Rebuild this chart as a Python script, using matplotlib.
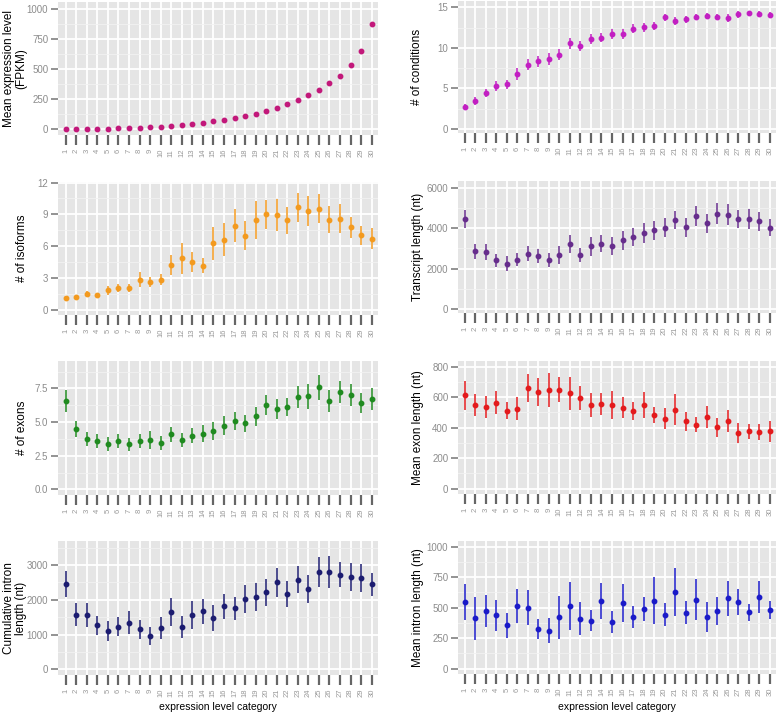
import numpy as np
import matplotlib.pyplot as plt
from matplotlib.ticker import MultipleLocator

plt.rcParams['font.family'] = ['Liberation Sans', 'DejaVu Sans']

cats = list(range(1, 31))

# mean expression level (FPKM)
fpkm = [1, 2, 3, 4, 6, 8, 11, 14, 18, 22, 27, 35, 46, 54, 68, 82, 92, 109, 130, 152,
        177, 209, 245, 285, 329, 383, 446, 530, 650, 875]
fpkm_err = [0.2] * 30

# number of conditions
cond = [2.74, 3.43, 4.41, 5.31, 5.48, 6.78, 7.93, 8.34, 8.62, 9.15, 10.58, 10.22, 11.07,
        11.28, 11.73, 11.73, 12.38, 12.55, 12.75, 13.77, 13.32, 13.53, 13.85, 13.94,
        13.81, 13.69, 14.14, 14.26, 14.18, 14.10]
cond_err = [0.35, 0.45, 0.5, 0.6, 0.6, 0.7, 0.7, 0.7, 0.7, 0.7, 0.7, 0.65, 0.65, 0.6,
            0.6, 0.6, 0.55, 0.55, 0.5, 0.45, 0.45, 0.45, 0.4, 0.4, 0.4, 0.45, 0.4, 0.35,
            0.35, 0.4]

# number of isoforms
iso = [1.12, 1.2, 1.5, 1.4, 1.84, 2.06, 2.06, 2.87, 2.62, 2.87, 4.27, 4.86, 4.52, 4.18,
       6.27, 6.61, 7.95, 7.01, 8.45, 9.01, 8.95, 8.45, 9.66, 9.29, 9.54, 8.51, 8.6,
       7.79, 7.04, 6.73]
iso_err = [0.1, 0.1, 0.3, 0.15, 0.45, 0.35, 0.35, 0.7, 0.45, 0.5, 0.95, 1.45, 0.95, 0.7,
           1.55, 1.55, 1.55, 1.35, 1.8, 1.35, 1.5, 1.25, 1.37, 1.4, 1.37, 1.25, 1.35,
           1.0, 0.9, 0.97]

# transcript length (nt)
tlen = [4459, 2852, 2803, 2410, 2246, 2443, 2738, 2623, 2410, 2672, 3213, 2672, 3098,
        3230, 3115, 3393, 3557, 3738, 3885, 4016, 4393, 4033, 4590, 4230, 4705, 4672,
        4443, 4443, 4328, 4016]
tlen_err = [460, 360, 390, 320, 350, 335, 375, 350, 350, 425, 465, 360, 460, 420, 440,
            460, 440, 490, 490, 465, 460, 465, 490, 485, 525, 525, 435, 500, 470, 410]

# number of exons
exons = [6.56, 4.48, 3.74, 3.59, 3.39, 3.59, 3.34, 3.59, 3.64, 3.44, 4.08, 3.69, 3.99,
         4.13, 4.33, 4.73, 5.07, 4.9, 5.42, 6.26, 5.99, 6.09, 6.86, 6.91, 7.57, 6.56,
         7.23, 7.0, 6.44, 6.68]
exons_err = [0.82, 0.6, 0.52, 0.52, 0.52, 0.55, 0.46, 0.53, 0.67, 0.55, 0.57, 0.52,
             0.53, 0.63, 0.64, 0.68, 0.64, 0.63, 0.72, 0.77, 0.73, 0.67, 0.83, 0.93,
             0.93, 0.8, 0.82, 0.82, 0.75, 0.82]

# mean exon length (nt)
exlen = [612, 549, 536, 564, 511, 525, 658, 634, 647, 649, 625, 592, 551, 553, 546, 531,
         507, 549, 483, 459, 518, 442, 420, 470, 402, 444, 365, 376, 372, 376]
exlen_err = [97, 74, 72, 75, 56, 73, 92, 91, 109, 82, 110, 79, 79, 73, 92, 70, 59, 86,
             51, 67, 100, 62, 47, 72, 64, 70, 63, 51, 52, 68]

# cumulative intron length (nt)
cilen = [2444, 1563, 1563, 1265, 1112, 1227, 1342, 1150, 959, 1189, 1659, 1218, 1572,
         1668, 1476, 1812, 1755, 2023, 2081, 2215, 2503, 2167, 2579, 2311, 2790, 2790,
         2723, 2646, 2627, 2444]
cilen_err = [374, 330, 355, 278, 292, 273, 330, 273, 254, 330, 403, 307, 398, 360, 364,
             360, 330, 393, 412, 393, 417, 369, 398, 398, 431, 455, 360, 398, 398, 340]

# mean intron length (nt)
milen = [549, 413, 470, 437, 355, 514, 500, 325, 309, 421, 514, 410, 393, 555, 383, 538,
         423, 489, 557, 443, 628, 459, 563, 426, 470, 576, 544, 462, 587, 478]
milen_err = [148, 178, 131, 126, 101, 138, 146, 81, 102, 176, 195, 137, 85, 146, 87,
             154, 94, 102, 191, 97, 193, 94, 168, 122, 116, 145, 108, 68, 134, 75]

W, H = 778, 714
fig = plt.figure(figsize=(W / 100, H / 100), dpi=100)

panels = [
    # values, errors, colour, ylabel, yticks, ylim, box (x0, x1, y0, y1 px), label x
    (fpkm, fpkm_err, '#C2187A', 'Mean expression level\n(FPKM)', [0, 250, 500, 750, 1000],
     (-46, 1054), (58, 378, 2, 135), 15),
    (cond, cond_err, '#C21FC2', '# of conditions', [0, 5, 10, 15],
     (-0.53, 15.8), (458, 776, 1, 133), 417),
    (iso, iso_err, '#F39A1F', '# of isoforms', [0, 3, 6, 9, 12],
     (-0.47, 12.05), (58, 378, 182, 315), 22),
    (tlen, tlen_err, '#662D8C', 'Transcript length (nt)', [0, 2000, 4000, 6000],
     (-197, 6328), (458, 776, 181, 313), 418),
    (exons, exons_err, '#1F8A1F', '# of exons', [0.0, 2.5, 5.0, 7.5],
     (-0.42, 9.53), (58, 378, 361, 495), 22),
    (exlen, exlen_err, '#E31A1C', 'Mean exon length (nt)', [0, 200, 400, 600, 800],
     (-35, 837), (458, 776, 361, 494), 418),
    (cilen, cilen_err, '#1C1C70', 'Cumulative intron\nlength (nt)', [0, 1000, 2000, 3000],
     (-163, 3690), (58, 378, 541, 675), 15),
    (milen, milen_err, '#1A1AC8', 'Mean intron length (nt)', [0, 250, 500, 750, 1000],
     (-44, 1046), (458, 776, 541, 674), 418),
]

for i, (vals, errs, col, ylab, yt, yl, box, lx) in enumerate(panels):
    x0, x1, y0, y1 = box
    ax = fig.add_axes([x0 / W, 1 - y1 / H, (x1 - x0) / W, (y1 - y0) / H])
    ax.set_facecolor('#E5E5E5')
    for s in ax.spines.values():
        s.set_visible(False)
    ax.errorbar(cats, vals, yerr=errs, fmt='o', color=col, ms=3.2, elinewidth=1.1,
                capsize=0, zorder=3)
    if i % 2 == 0:
        ax.set_xlim(0.27, 30.6)
    else:
        ax.set_xlim(0.35, 30.6)
    ax.set_ylim(*yl)
    ax.set_xticks(cats)
    ax.set_xticklabels([str(c) for c in cats], rotation=90, fontsize=5.5, color='#999999')
    ax.set_yticks(yt)
    if i == 4:
        ax.set_yticklabels(['%.1f' % v for v in yt])
    ax.yaxis.set_minor_locator(MultipleLocator((yt[1] - yt[0]) / 2))
    ax.tick_params(axis='y', which='major', labelsize=7, labelcolor='#8C8C8C',
                   color='#808080', length=5, width=1.2, pad=2)
    ax.tick_params(axis='y', which='minor', length=0)
    ax.tick_params(axis='x', which='major', color='#666666', length=7, width=1.6, pad=3)
    ax.grid(True, which='major', color='white', lw=1.3)
    ax.grid(True, which='minor', axis='y', color='#F2F2F2', lw=0.6)
    ax.set_axisbelow(True)
    fig.text(lx / W, 1 - (y0 + y1) / 2 / H, ylab, rotation=90, ha='center', va='center',
             fontsize=8.5, linespacing=0.95)

fig.text(218 / W, 1 - 707 / H, 'expression level category', ha='center', va='center',
         fontsize=7.5)
fig.text(617 / W, 1 - 707 / H, 'expression level category', ha='center', va='center',
         fontsize=7.5)

fig.savefig('out.png', dpi=100)
